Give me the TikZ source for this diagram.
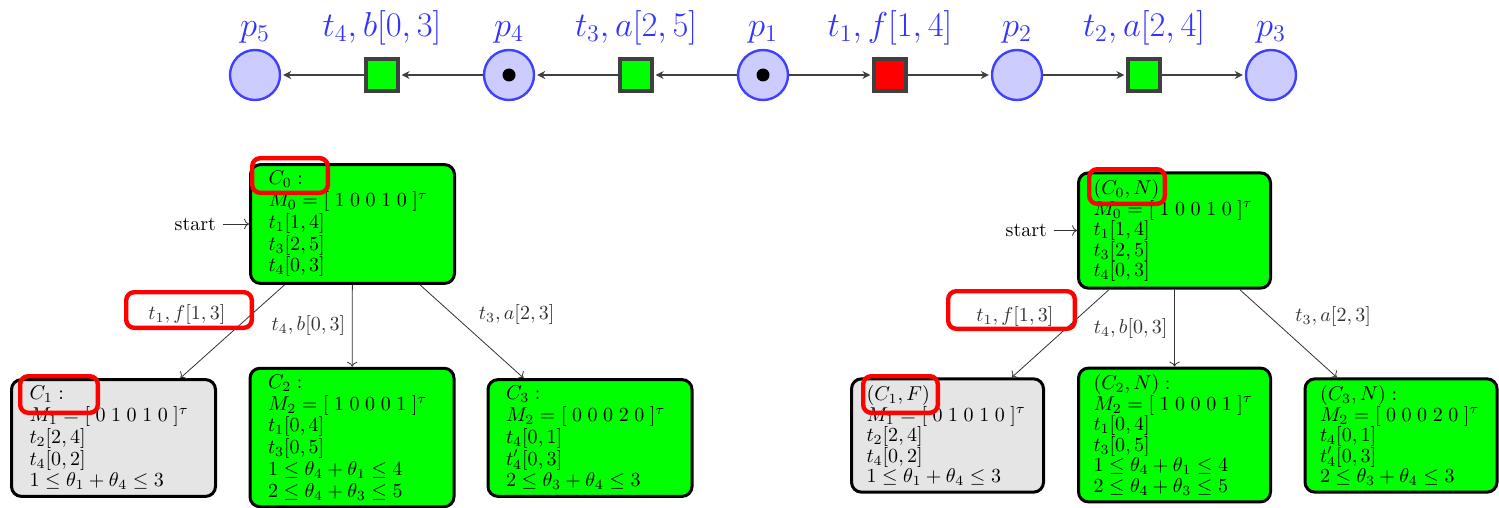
\documentclass[tikz,border=0pt]{standalone}
\usepackage{amsmath,amssymb}
\usetikzlibrary{arrows.meta,positioning}

\begin{document}
\begin{tikzpicture}[x=0.5pt, y=-0.5pt, every node/.style={font=\normalsize},
  place/.style={circle,draw=blue!75,fill=blue!20,line width=1.2pt,minimum size=25pt,inner sep=0pt},
  trans/.style={rectangle,draw=black!75,fill=green,line width=1.6pt,minimum size=16pt,inner sep=0pt},
  tok/.style={circle,fill=black,minimum size=6.5pt,inner sep=0pt},
  lbl/.style={font=\fontsize{18.5}{22}\selectfont,text=blue!80,text depth=.25em},
  arc/.style={-{Stealth[length=4pt,width=4pt]},black!75,line width=0.6pt,shorten >=1pt},
  cfg/.style={rectangle,draw=black,fill=green,rounded corners=5pt,line width=1.5pt,
              text width=84pt,inner xsep=9pt,align=left,font=\fontsize{10}{10.85}\selectfont},
  dead/.style={cfg,fill=gray!20},
  cfgr/.style={cfg,text width=81pt,inner xsep=7.5pt,font=\fontsize{9.6}{10.25}\selectfont},
  deadr/.style={cfgr,fill=gray!20},
  ed/.style={->,black!80,line width=0.4pt},
  elbl/.style={font=\normalsize,inner sep=3.3pt},
  hl/.style={draw=red,line width=2.2pt,rounded corners=4pt,inner sep=0pt}]

\useasboundingbox (0,0) rectangle (1499,508);

\node[place] (p5) at (255,75)  [label={[lbl]above:{$p_5$}}] {};
\node[trans] (t4) at (382,75)  [label={[lbl,label distance=4.5pt]above:{$t_4, b[0,3]$}}] {};
\node[place] (p4) at (509,75)  [label={[lbl]above:{$p_4$}}] {};
\node[trans] (t3) at (636,75)  [label={[lbl,label distance=4.5pt]above:{$t_3, a[2,5]$}}] {};
\node[place] (p1) at (763,75)  [label={[lbl]above:{$p_1$}}] {};
\node[trans,fill=red] (t1) at (890,75) [label={[lbl,label distance=4.5pt]above:{$t_1, f[1,4]$}}] {};
\node[place] (p2) at (1017,75) [label={[lbl]above:{$p_2$}}] {};
\node[trans] (t2) at (1144,75) [label={[lbl,label distance=4.5pt]above:{$t_2, a[2,4]$}}] {};
\node[place] (p3) at (1271,75) [label={[lbl]above:{$p_3$}}] {};
\node[tok] (k1) at (p1) {};
\node[tok] (k4) at (p4) {};

\foreach \a/\b in {p1/t3, t3/p4, p4/t4, t4/p5, p1/t1, t1/p2, p2/t2, t2/p3}
  \draw[arc] (\a) -- (\b);

\node[cfg] (l0) at (352.5,224) {$C_0:$\\ ${M_0=[\;1\;0\;0\;1\;0\;]^{\tau}}$\\
  $t_1[1,4]$\\ $t_3[2,5]$\\ $t_4[0,3]$};
\node[dead] (l1) at (113.5,438) {$C_1:$\\ ${M_1=[\;0\;1\;0\;1\;0\;]^{\tau}}$\\
  $t_2[2,4]$\\ $t_4[0,2]$\\ $1\le\theta_1+\theta_4\le 3$};
\node[cfg] (l2) at (352,437.5) {$C_2:$\\ ${M_2=[\;1\;0\;0\;0\;1\;]^{\tau}}$\\
  $t_1[0,4]$\\ $t_3[0,5]$\\ $1\le\theta_4+\theta_1\le 4$\\ $2\le\theta_4+\theta_3\le 5$};
\node[cfg] (l3) at (590,438) {$C_3:$\\ ${M_2=[\;0\;0\;0\;2\;0\;]^{\tau}}$\\
  $t_4[0,1]$\\ $t'_4[0,3]$\\ $2\le\theta_3+\theta_4\le 3$};
\node[left=13pt of l0] (sl) {start};

\draw[ed] (sl) -- (l0);
\draw[ed] (l0) -- node[elbl,midway,above left] {$t_1, f[1,3]$} (l1);
\draw[ed] (l0) -- node[elbl,midway,left] {$t_4, b[0,3]$} (l2);
\draw[ed] (l0) -- node[elbl,midway,above right] {$t_3, a[2,3]$} (l3);

\node[cfgr] (r0) at (1174.5,230.5) {$(C_0,N)$\\ ${M_0=[\;1\;0\;0\;1\;0\;]^{\tau}}$\\
  $t_1[1,4]$\\ $t_3[2,5]$\\ $t_4[0,3]$};
\node[deadr] (r1) at (947.5,435.5) {$(C_1,F)$\\ ${M_1=[\;0\;1\;0\;1\;0\;]^{\tau}}$\\
  $t_2[2,4]$\\ $t_4[0,2]$\\ $1\le\theta_1+\theta_4\le 3$};
\node[cfgr] (r2) at (1174.5,435) {$(C_2,N):$\\ ${M_2=[\;1\;0\;0\;0\;1\;]^{\tau}}$\\
  $t_1[0,4]$\\ $t_3[0,5]$\\ $1\le\theta_4+\theta_1\le 4$\\ $2\le\theta_4+\theta_3\le 5$};
\node[cfgr] (r3) at (1401,435.5) {$(C_3,N):$\\ ${M_2=[\;0\;0\;0\;2\;0\;]^{\tau}}$\\
  $t_4[0,1]$\\ $t'_4[0,3]$\\ $2\le\theta_3+\theta_4\le 3$};
\node[left=11.5pt of r0] (sr) {start};

\draw[ed] (sr) -- (r0);
\draw[ed] (r0) -- node[elbl,midway,above left] {$t_1, f[1,3]$} (r1);
\draw[ed] (r0) -- node[elbl,midway,left] {$t_4, b[0,3]$} (r2);
\draw[ed] (r0) -- node[elbl,midway,above right] {$t_3, a[2,3]$} (r3);

\node[hl,minimum width=37.8pt,minimum height=17.3pt] (hl0) at (290,175.5) {};
\node[hl,minimum width=62.8pt,minimum height=17.8pt] (hlf) at (189,310) {};
\node[hl,minimum width=38.8pt,minimum height=18.3pt] (hl1) at (59,394.5) {};
\node[hl,minimum width=37.8pt,minimum height=17.3pt] (hr0) at (1127,186.5) {};
\node[hl,minimum width=63.3pt,minimum height=18.8pt] (hrf) at (1011.5,310) {};
\node[hl,minimum width=37.3pt,minimum height=18.3pt] (hr1) at (900.5,394.5) {};
\end{tikzpicture}
\end{document}
